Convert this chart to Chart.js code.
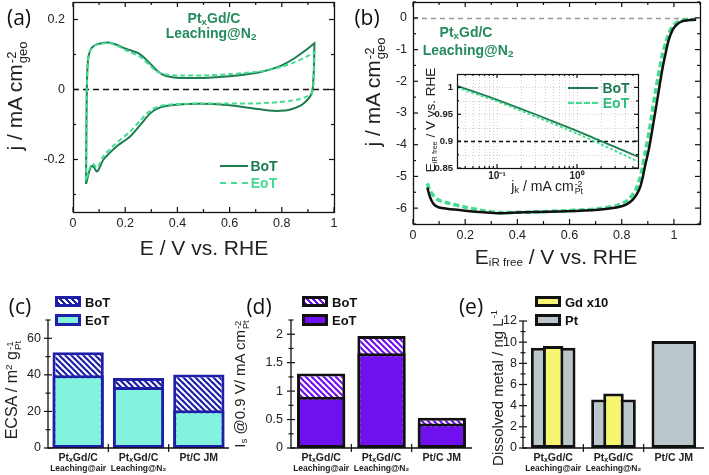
<!DOCTYPE html>
<html><head><meta charset="utf-8">
<script src="https://cdn.jsdelivr.net/npm/chart.js@4.4.1/dist/chart.umd.min.js"></script>
<style>
html,body{margin:0;padding:0;background:#fff;}
#fig{position:relative;width:709px;height:475px;overflow:hidden;font-family:"Liberation Sans",Arial,sans-serif;color:#222;}
canvas{position:absolute;}
.t{position:absolute;white-space:nowrap;line-height:1;}
.ss{display:inline-block;vertical-align:-0.38em;line-height:0.85;font-size:0.62em;text-align:left;margin-left:1px}
.ss span{display:block}
.sb{font-size:0.55em;vertical-align:-0.2em}
.sp{font-size:0.62em;vertical-align:0.55em}
.box{position:absolute;box-sizing:border-box;}
</style></head><body><div id="fig"></div>
<script>
// ---------------- DATA ----------------
// (a) cyclic voltammograms: anodic sweep then cathodic sweep
const cvPotUp   = [0.05,0.051,0.053,0.057,0.065,0.08,0.1,0.136,0.17,0.2,0.22,0.25,0.27,0.296,0.32,0.347,0.38,0.42,0.5,0.6,0.7,0.75,0.8,0.85,0.9,0.925];
const cvBoTUp   = [-0.27,-0.15,0.0,0.08,0.11,0.125,0.131,0.134,0.127,0.117,0.112,0.104,0.093,0.074,0.055,0.041,0.035,0.033,0.033,0.038,0.047,0.056,0.069,0.09,0.117,0.132];
const cvEoTUp   = [-0.26,-0.15,0.0,0.08,0.11,0.124,0.13,0.133,0.125,0.113,0.106,0.097,0.086,0.068,0.052,0.044,0.041,0.04,0.04,0.044,0.05,0.056,0.065,0.078,0.096,0.107];
const cvPotDown = [0.925,0.923,0.918,0.908,0.89,0.87,0.83,0.793,0.75,0.691,0.589,0.487,0.385,0.334,0.296,0.258,0.219,0.168,0.117,0.098,0.09,0.08,0.072,0.062,0.055,0.05];
const cvBoTDown = [0.132,0.06,0.0,-0.021,-0.036,-0.047,-0.058,-0.061,-0.06,-0.054,-0.044,-0.041,-0.044,-0.051,-0.068,-0.101,-0.134,-0.162,-0.2,-0.229,-0.234,-0.222,-0.218,-0.235,-0.255,-0.27];
const cvEoTDown = [0.107,0.04,-0.005,-0.015,-0.022,-0.027,-0.033,-0.036,-0.038,-0.04,-0.04,-0.04,-0.042,-0.047,-0.06,-0.088,-0.12,-0.152,-0.19,-0.218,-0.224,-0.214,-0.212,-0.23,-0.248,-0.26];
const cvTicksX = [0,0.2,0.4,0.6,0.8,1];
const cvTicksY = [-0.2,0,0.2];

// (b) ORR polarisation curves
const lsvPot = [0.055,0.065,0.08,0.1,0.13,0.2,0.27,0.33,0.4,0.46,0.59,0.71,0.78,0.815,0.84,0.855,0.87,0.88,0.89,0.905,0.93,0.955,0.97,0.98,0.995,1.01,1.03,1.06,1.085];
const lsvBoT = [-5.35,-5.65,-5.88,-5.98,-6.02,-6.08,-6.13,-6.16,-6.14,-6.12,-6.1,-6.05,-5.98,-5.9,-5.75,-5.6,-5.35,-5.05,-4.65,-4.1,-2.9,-1.65,-1.05,-0.7,-0.38,-0.22,-0.11,-0.07,-0.06];
const lsvEoT = [-5.22,-5.45,-5.62,-5.75,-5.83,-5.97,-6.08,-6.14,-6.13,-6.12,-6.08,-6.02,-5.92,-5.8,-5.6,-5.4,-5.05,-4.7,-4.25,-3.6,-2.3,-1.2,-0.75,-0.5,-0.27,-0.15,-0.08,-0.06,-0.05];
const lsvTicksX = [0,0.2,0.4,0.6,0.8,1];
const lsvTicksY = [0,-1,-2,-3,-4,-5,-6];

// (b) inset Tafel plot
const tafelJk  = [0.0316,0.1,0.3,1,2,5.79];
const tafelBoT = [1.003,0.977,0.95,0.919,0.9,0.871];
const tafelEoT = [1.0,0.974,0.946,0.914,0.894,0.862];
const tafelTicksX = [0.1,1];
const tafelTicksY = [0.85,0.9,0.95,1];

// (c)-(e) bar panels
const catLabels = ['PtₓGd/C','PtₓGd/C','Pt/C JM'];
const catSub    = ['Leaching@air','Leaching@N₂',''];
const ecsaBoT = [52.3,38.3,40.2];
const ecsaEoT = [39.8,33.4,20.7];
const isBoT = [1.31,1.97,0.53];
const isEoT = [0.9,1.665,0.43];
const dissGd = [9.63,5.16,null];
const dissPt = [9.48,4.59,10.1];
const ecsaTicks = [0,20,40,60];
const isTicks = [0,0.5,1,1.5,2];
const dissTicks = [0,2,4,6,8,10,12];

// ---------------- HELPERS ----------------
const FONT = '"Liberation Sans", Arial, sans-serif';
Chart.defaults.font.family = FONT;
Chart.defaults.color = '#222';
const GREEN_D = '#1e7d50', GREEN_L = '#44dc92', GREEN_T = '#238b5c';
const NAVY = '#1e1ea6', AQUA = '#82f4de', VIOLET = '#7010ee', GREY = '#bcc7cb', YELLOW = '#f6f670';
const fig = document.getElementById('fig');
const PAD_T = 22, PAD_R = 18;
const pts = (xs, ys) => xs.map((x, i) => ({x, y: ys[i]}));
const range = (a, b, s) => { const r = []; for (let v = a; v <= b + 1e-9; v += s) r.push(+v.toFixed(4)); return r; };

function hatch(color) {
  const c = document.createElement('canvas'); c.width = 6; c.height = 6;
  const g = c.getContext('2d');
  g.fillStyle = '#fff'; g.fillRect(0, 0, 6, 6);
  g.strokeStyle = color; g.lineWidth = 2.2;
  for (const o of [-6, 0, 6]) { g.beginPath(); g.moveTo(o - 1, -1); g.lineTo(o + 7, 7); g.stroke(); }
  return g.createPattern(c, 'repeat');
}

function drawLines(ctx, a, s, g) {
  ctx.save();
  ctx.strokeStyle = g.color; ctx.lineWidth = g.w; ctx.setLineDash(g.dash || []);
  for (const v of g.values) {
    const p = Math.round(s.getPixelForValue(v)) + 0.5;
    ctx.beginPath();
    if (s.isHorizontal()) { ctx.moveTo(p, a.top); ctx.lineTo(p, a.bottom); }
    else { ctx.moveTo(a.left, p); ctx.lineTo(a.right, p); }
    ctx.stroke();
  }
  ctx.restore();
}

const deco = {
  id: 'deco',
  beforeDatasetsDraw(chart, args, o) {
    const {ctx, chartArea: a, scales} = chart;
    if (o.bg) { ctx.save(); ctx.fillStyle = o.bg; ctx.fillRect(a.left, a.top, a.right - a.left, a.bottom - a.top); ctx.restore(); }
    for (const g of (o.grid || [])) drawLines(ctx, a, scales[g.axis], g);
    for (const g of (o.refs || [])) drawLines(ctx, a, scales[g.axis], g);
  },
  afterDatasetsDraw(chart, args, o) {
    const {ctx, chartArea: a, scales} = chart;
    ctx.save();
    ctx.strokeStyle = '#111'; ctx.lineWidth = o.axisW || 1.3; ctx.setLineDash([]);
    if (o.box) ctx.strokeRect(Math.round(a.left) + 0.5, Math.round(a.top) + 0.5, Math.round(a.right - a.left), Math.round(a.bottom - a.top));
    else { ctx.beginPath(); ctx.moveTo(a.left, a.top); ctx.lineTo(a.left, a.bottom); ctx.lineTo(a.right, a.bottom); ctx.stroke(); }
    for (const t of (o.ticks || [])) {
      const s = scales[t.axis];
      ctx.lineWidth = t.w || 1.2;
      for (const v of t.values) {
        const p = s.getPixelForValue(v);
        for (const side of t.sides) {
          let base, dir;
          if (side === 'bottom') { base = a.bottom; dir = -1; }
          else if (side === 'top') { base = a.top; dir = 1; }
          else if (side === 'left') { base = a.left; dir = 1; }
          else { base = a.right; dir = -1; }
          const p0 = t.mode === 'cross' ? base - dir * t.len : base;
          const p1 = base + dir * t.len;
          ctx.beginPath();
          if (side === 'bottom' || side === 'top') { ctx.moveTo(p, p0); ctx.lineTo(p, p1); }
          else { ctx.moveTo(p0, p); ctx.lineTo(p1, p); }
          ctx.stroke();
        }
      }
    }
    if (o.sub) {
      const s = scales.x;
      ctx.fillStyle = '#222'; ctx.font = o.sub.font; ctx.textAlign = 'center'; ctx.textBaseline = 'middle';
      o.sub.labels.forEach((l, i) => { if (l) ctx.fillText(l, s.getPixelForTick(i), a.bottom + o.sub.dy); });
    }
    ctx.restore();
  }
};

function makeChart(area, padL, padB, cfg) {
  const c = document.createElement('canvas');
  const w = area.R - area.L + padL + PAD_R, h = area.B - area.T + PAD_T + padB;
  c.width = w; c.height = h;
  c.style.left = (area.L - padL) + 'px'; c.style.top = (area.T - PAD_T) + 'px';
  c.style.width = w + 'px'; c.style.height = h + 'px';
  fig.appendChild(c);
  const op = cfg.options;
  op.responsive = false; op.animation = false; op.devicePixelRatio = 1;
  op.layout = {padding: {top: PAD_T, right: PAD_R, left: 0, bottom: 0}};
  op.plugins = Object.assign({legend: {display: false}, tooltip: {enabled: false}}, op.plugins || {});
  for (const s of Object.values(op.scales)) {
    s.afterFit = sc => { if (sc.isHorizontal()) sc.height = padB; else sc.width = padL; };
    s.grid = {display: false, drawTicks: false};
    s.border = {display: false};
  }
  cfg.plugins = [deco];
  return new Chart(c, cfg);
}
const setTicks = vals => s => { s.ticks = vals.map(v => ({value: v})); };
const tickFont = (size, weight) => ({size, family: FONT, weight: weight || 'normal'});

function txt(x, y, html, css, rot) {
  const d = document.createElement('div'); d.className = 't'; d.innerHTML = html;
  d.style.cssText = css || '';
  d.style.left = x + 'px'; d.style.top = y + 'px';
  d.style.transform = 'translate(-50%,-50%)' + (rot ? ' rotate(-90deg)' : '');
  fig.appendChild(d);
}
function box(x, y, w, h, css) {
  const d = document.createElement('div'); d.className = 'box';
  d.style.cssText = `left:${x}px;top:${y}px;width:${w}px;height:${h}px;` + css;
  fig.appendChild(d);
}

// ---------------- (a) CV ----------------
makeChart({L: 73, R: 334, T: 2, B: 212}, 45, 30, {
  type: 'scatter',
  data: {datasets: [
    {label: 'EoT', data: pts(cvPotUp.concat(cvPotDown), cvEoTUp.concat(cvEoTDown)), showLine: true, borderColor: GREEN_L, borderWidth: 2, borderDash: [5, 3], pointRadius: 0, tension: 0.25, order: 1},
    {label: 'BoT', data: pts(cvPotUp.concat(cvPotDown), cvBoTUp.concat(cvBoTDown)), showLine: true, borderColor: GREEN_D, borderWidth: 2, pointRadius: 0, tension: 0.25, order: 2}
  ]},
  options: {
    plugins: {deco: {box: true,
      refs: [{axis: 'y', values: [0], color: '#111', w: 1.4, dash: [6, 4]}],
      ticks: [
        {axis: 'x', values: cvTicksX, sides: ['bottom', 'top'], len: 5, mode: 'in'},
        {axis: 'x', values: range(0.1, 0.9, 0.2), sides: ['bottom', 'top'], len: 3, mode: 'in'},
        {axis: 'y', values: cvTicksY, sides: ['left', 'right'], len: 5, mode: 'in'},
        {axis: 'y', values: [-0.3, -0.1, 0.1], sides: ['left', 'right'], len: 3, mode: 'in'}
      ]}},
    scales: {
      x: {type: 'linear', min: 0, max: 1, afterBuildTicks: setTicks(cvTicksX), ticks: {padding: 4, font: tickFont(12.5), callback: v => String(v)}},
      y: {type: 'linear', min: -0.35, max: 0.25, afterBuildTicks: setTicks(cvTicksY), ticks: {padding: 8, font: tickFont(12.5), callback: v => String(v)}}
    }
  }
});

// ---------------- (b) LSV ----------------
makeChart({L: 413, R: 700, T: 2, B: 224}, 45, 30, {
  type: 'scatter',
  data: {datasets: [
    {label: 'BoT', data: pts(lsvPot, lsvBoT), showLine: true, borderColor: '#111', borderWidth: 2.5, pointRadius: 0, tension: 0.3, order: 1},
    {label: 'EoT', data: pts(lsvPot, lsvEoT), showLine: true, borderColor: GREEN_L, borderWidth: 3.5, borderDash: [6, 3], pointRadius: 0, tension: 0.3, order: 2}
  ]},
  options: {
    plugins: {deco: {box: true,
      refs: [{axis: 'y', values: [0], color: '#999', w: 1.3, dash: [5, 4]}],
      ticks: [
        {axis: 'x', values: lsvTicksX, sides: ['bottom', 'top'], len: 5, mode: 'in'},
        {axis: 'x', values: range(0.1, 1.1, 0.2), sides: ['bottom', 'top'], len: 3, mode: 'in'},
        {axis: 'y', values: lsvTicksY, sides: ['left', 'right'], len: 5, mode: 'in'},
        {axis: 'y', values: range(-6.5, 0.5, 1), sides: ['left', 'right'], len: 3, mode: 'in'}
      ]}},
    scales: {
      x: {type: 'linear', min: 0, max: 1.1, afterBuildTicks: setTicks(lsvTicksX), ticks: {padding: 4, font: tickFont(12.5), callback: v => String(v)}},
      y: {type: 'linear', min: -6.5, max: 0.5, afterBuildTicks: setTicks(lsvTicksY), ticks: {padding: 6, font: tickFont(12.5), callback: v => String(v)}}
    }
  }
});

// ---------------- (b) inset Tafel ----------------
const supMap = {'-': '⁻', '0': '⁰', '1': '¹'};
makeChart({L: 457, R: 638, T: 74, B: 168}, 35, 20, {
  type: 'scatter',
  data: {datasets: [
    {label: 'BoT', data: pts(tafelJk, tafelBoT), showLine: true, borderColor: GREEN_D, borderWidth: 1.8, pointRadius: 0, tension: 0.3, order: 2},
    {label: 'EoT', data: pts(tafelJk, tafelEoT), showLine: true, borderColor: GREEN_L, borderWidth: 1.8, borderDash: [3, 2], pointRadius: 0, tension: 0.3, order: 1}
  ]},
  options: {
    plugins: {deco: {box: true, bg: '#fff', axisW: 1.2,
      grid: [
        {axis: 'x', values: [0.04,0.05,0.06,0.07,0.08,0.09,0.1,0.2,0.3,0.4,0.5,0.6,0.7,0.8,0.9,1,2,3,4,5], color: '#c4c4c4', w: 0.8, dash: [1, 2]},
        {axis: 'y', values: [0.875,0.925,0.95,0.975,1.0], color: '#c4c4c4', w: 0.8, dash: [1, 2]}
      ],
      refs: [{axis: 'y', values: [0.9], color: '#111', w: 1.3, dash: [4, 3]}],
      ticks: [
        {axis: 'x', values: tafelTicksX, sides: ['bottom', 'top'], len: 4, mode: 'in'},
        {axis: 'x', values: [0.04,0.05,0.06,0.07,0.08,0.09,0.2,0.3,0.4,0.5,0.6,0.7,0.8,0.9,2,3,4,5], sides: ['bottom', 'top'], len: 2, mode: 'in'},
        {axis: 'y', values: tafelTicksY, sides: ['left', 'right'], len: 4, mode: 'in'},
        {axis: 'y', values: [0.875, 0.925, 0.975], sides: ['left', 'right'], len: 2, mode: 'in'}
      ]}},
    scales: {
      x: {type: 'logarithmic', min: 0.0316, max: 5.79, afterBuildTicks: setTicks(tafelTicksX),
          ticks: {padding: 2, autoSkip: false, font: tickFont(10, 'bold'), callback: v => '10' + String(Math.round(Math.log10(v))).split('').map(ch => supMap[ch]).join('')}},
      y: {type: 'linear', min: 0.85, max: 1.025, afterBuildTicks: setTicks(tafelTicksY), ticks: {padding: 4, font: tickFont(9.5, 'bold'), callback: v => String(v)}}
    }
  }
});

// ---------------- (c) ECSA ----------------
const AQ_H = hatch(NAVY), VI_H = hatch(VIOLET);
const catXTicks = [0.5, 1.5];
const subOpt = {labels: catSub, dy: 21, font: 'bold 8.5px ' + FONT};
makeChart({L: 48, R: 229, T: 320, B: 448}, 40, 30, {
  type: 'bar',
  data: {labels: catLabels, datasets: [
    {label: 'EoT', data: ecsaEoT, backgroundColor: AQUA, borderColor: NAVY, borderWidth: 3, borderSkipped: false, barPercentage: 0.85, categoryPercentage: 1, order: 1},
    {label: 'BoT', data: ecsaBoT, backgroundColor: AQ_H, borderColor: NAVY, borderWidth: 3, borderSkipped: false, barPercentage: 0.85, categoryPercentage: 1, order: 2}
  ]},
  options: {
    plugins: {deco: {sub: subOpt, ticks: [
      {axis: 'y', values: ecsaTicks, sides: ['left'], len: 4, mode: 'cross'},
      {axis: 'y', values: [10, 30, 50, 70], sides: ['left'], len: 2.5, mode: 'cross'},
      {axis: 'x', values: catXTicks, sides: ['bottom'], len: 4, mode: 'cross'}
    ]}},
    scales: {
      x: {stacked: true, ticks: {padding: 4, font: tickFont(10.5, 'bold')}},
      y: {stacked: false, min: 0, max: 70, afterBuildTicks: setTicks(ecsaTicks), ticks: {padding: 7, font: tickFont(12.5), callback: v => String(v)}}
    }
  }
});

// ---------------- (d) specific activity ----------------
makeChart({L: 291, R: 472, T: 320, B: 448}, 40, 30, {
  type: 'bar',
  data: {labels: catLabels, datasets: [
    {label: 'EoT', data: isEoT, backgroundColor: VIOLET, borderColor: '#111', borderWidth: 3, borderSkipped: false, barPercentage: 0.8, categoryPercentage: 1, order: 1},
    {label: 'BoT', data: isBoT, backgroundColor: VI_H, borderColor: '#111', borderWidth: 3, borderSkipped: false, barPercentage: 0.8, categoryPercentage: 1, order: 2}
  ]},
  options: {
    plugins: {deco: {sub: subOpt, ticks: [
      {axis: 'y', values: isTicks, sides: ['left'], len: 4, mode: 'cross'},
      {axis: 'y', values: [0.25, 0.75, 1.25, 1.75, 2.25], sides: ['left'], len: 2.5, mode: 'cross'},
      {axis: 'x', values: catXTicks, sides: ['bottom'], len: 4, mode: 'cross'}
    ]}},
    scales: {
      x: {stacked: true, ticks: {padding: 4, font: tickFont(10.5, 'bold')}},
      y: {stacked: false, min: 0, max: 2.25, afterBuildTicks: setTicks(isTicks), ticks: {padding: 8, font: tickFont(12.5), callback: v => String(v)}}
    }
  }
});

// ---------------- (e) dissolution ----------------
makeChart({L: 523, R: 704, T: 321, B: 448}, 40, 30, {
  type: 'bar',
  data: {labels: catLabels, datasets: [
    {label: 'Gd x10', data: dissGd, backgroundColor: YELLOW, borderColor: '#111', borderWidth: 3, borderSkipped: false, barPercentage: 0.34, categoryPercentage: 1, order: 1},
    {label: 'Pt', data: dissPt, backgroundColor: GREY, borderColor: '#111', borderWidth: 3, borderSkipped: false, barPercentage: 0.74, categoryPercentage: 1, order: 2}
  ]},
  options: {
    plugins: {deco: {sub: subOpt, ticks: [
      {axis: 'y', values: dissTicks, sides: ['left'], len: 4, mode: 'cross'},
      {axis: 'y', values: range(1, 11, 2), sides: ['left'], len: 2.5, mode: 'cross'},
      {axis: 'x', values: catXTicks, sides: ['bottom'], len: 4, mode: 'cross'}
    ]}},
    scales: {
      x: {stacked: true, ticks: {padding: 4, font: tickFont(10.5, 'bold')}},
      y: {stacked: false, min: 0, max: 12, afterBuildTicks: setTicks(dissTicks), ticks: {padding: 6, font: tickFont(12.5), callback: v => String(v)}}
    }
  }
});

// ---------------- TEXT / LEGENDS ----------------
const PL = 'font-family:"Open Sans",sans-serif;font-size:21px;color:#111;';
txt(19, 17, '(a)', PL); txt(367, 17, '(b)', PL);
txt(20, 306, '(c)', PL); txt(259, 306, '(d)', PL); txt(471, 306, '(e)', PL);

const AX = 'font-size:21px;color:#222;';
txt(204, 247, 'E / V vs. RHE', AX);
txt(16, 96, 'j / mA cm<span class="ss"><span>-2</span><span>geo</span></span>', AX, true);
txt(556, 257, 'E<span class="sb">iR free</span> / V vs. RHE', AX);
txt(374, 92, 'j / mA cm<span class="ss"><span>-2</span><span>geo</span></span>', AX, true);
txt(547, 187, 'j<span class="sb" style="font-size:0.7em">k</span> / mA cm<span class="ss"><span>-2</span><span>Pt</span></span>', 'font-size:14px;color:#222;');
txt(431, 120, 'E<span class="sb">iR free</span> / V vs. RHE', 'font-size:13.5px;color:#222;', true);
txt(13, 390, 'ECSA / m<span class="sp">2</span> g<span class="ss"><span>-1</span><span>Pt</span></span>', 'font-size:16px;color:#222;', true);
txt(241, 384, 'I<span class="sb" style="font-size:0.65em">s</span> @0.9 V/ mA cm<span class="ss"><span>-2</span><span>Pt</span></span>', 'font-size:15px;color:#222;', true);
txt(497, 388, 'Dissolved metal / ng L<span class="sp">-1</span>', 'font-size:15px;color:#222;', true);

const AN = `font-size:14px;font-weight:bold;color:${GREEN_T};`;
txt(214, 19, 'Pt<span class="sb" style="font-size:0.7em">x</span>Gd/C', AN);
txt(211, 34, 'Leaching@N<span class="sb" style="font-size:0.7em">2</span>', AN);
txt(466, 33, 'Pt<span class="sb" style="font-size:0.7em">x</span>Gd/C', AN);
txt(468, 51, 'Leaching@N<span class="sb" style="font-size:0.7em">2</span>', AN);

// legend (a)
box(220, 165, 28, 2, `background:${GREEN_D};`);
box(220, 182, 28, 0, `border-top:2px dashed ${GREEN_L};`);
txt(264, 166, 'BoT', `font-size:14px;font-weight:bold;color:${GREEN_D};`);
txt(264, 183, 'EoT', `font-size:14px;font-weight:bold;color:${GREEN_L};`);
// legend inset
box(568, 87, 30, 2, `background:${GREEN_D};`);
box(568, 102, 30, 0, `border-top:2px dashed ${GREEN_L};`);
txt(616, 88, 'BoT', `font-size:14px;font-weight:bold;color:${GREEN_D};`);
txt(616, 103, 'EoT', `font-size:14px;font-weight:bold;color:#2bbf7a;`);

// legends (c)(d)(e)
const LG = 'font-size:13px;font-weight:bold;color:#111;';
function barLegend(x, items) {
  items.forEach((it, i) => {
    const y = i === 0 ? 296 : 314;
    box(x, y, 26, i === 0 ? 11 : 12, `border:3px solid ${it.border};background:${it.bg};`);
    const d = document.createElement('div'); d.className = 't'; d.innerHTML = it.label;
    d.style.cssText = LG + `left:${x + 30}px;top:${y + (i === 0 ? 5.5 : 6)}px;transform:translateY(-50%);`;
    fig.appendChild(d);
  });
}
barLegend(55, [{label: 'BoT', border: NAVY, bg: `repeating-linear-gradient(45deg, ${NAVY} 0 2px, #fff 2px 4.2px)`}, {label: 'EoT', border: NAVY, bg: AQUA}]);
barLegend(302, [{label: 'BoT', border: '#111', bg: `repeating-linear-gradient(45deg, ${VIOLET} 0 2px, #fff 2px 4.2px)`}, {label: 'EoT', border: '#111', bg: VIOLET}]);
barLegend(535, [{label: 'Gd x10', border: '#111', bg: YELLOW}, {label: 'Pt', border: '#111', bg: GREY}]);
</script></body></html>
